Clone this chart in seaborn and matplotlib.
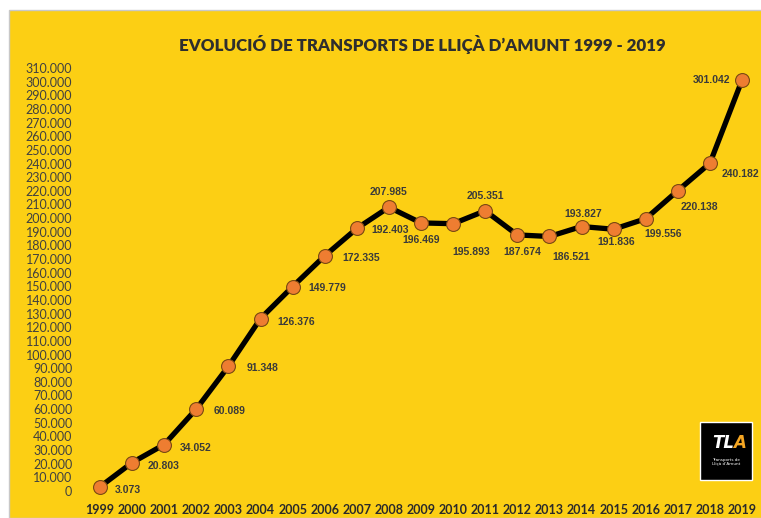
import pandas as pd
import seaborn as sns
import matplotlib.pyplot as plt
from matplotlib.patches import Rectangle
from matplotlib.ticker import FuncFormatter

years = list(range(1999, 2020))
transports = [3073, 20803, 34052, 60089, 91348, 126376, 149779, 172335, 192403, 207985,
              196469, 195893, 205351, 187674, 186521, 193827, 191836, 199556, 220138,
              240182, 301042]
# label offsets in pixels (dx, dy) and horizontal alignment
label_pos = [(15, -3, 'left'), (16, -3, 'left'), (16, -3, 'left'), (17, -2, 'left'),
             (18, -2, 'left'), (17, -3, 'left'), (16, -1, 'left'), (18, -2, 'left'),
             (33, -2, 'center'), (0, 15, 'center'), (0, -17, 'center'), (18, -28, 'center'),
             (0, 15, 'center'), (5, -17, 'center'), (22, -21, 'center'), (2, 13, 'center'),
             (3, -13, 'center'), (17, -15, 'center'), (22, -16, 'center'), (31, -11, 'center'),
             (-12, 0, 'right')]

yellow = '#FCCF14'
df = pd.DataFrame({'Any': years, 'Transports': transports})

sns.set_style('white')
fig = plt.figure(figsize=(7.61, 5.18), dpi=100, facecolor='white')
fig.patches.append(Rectangle((9 / 761, 0), 1, 1 - 10 / 518, transform=fig.transFigure,
                             facecolor=yellow, edgecolor='#c8c8c8', lw=1, zorder=-10))
ax = fig.add_axes([100 / 761, 27 / 518, 642 / 761, 423 / 518])
ax.set_facecolor('none')

sns.lineplot(x='Any', y='Transports', data=df, ax=ax, color='black', lw=3.8,
             marker='o', markersize=10, markerfacecolor='#EE7D31',
             markeredgecolor='#7a4a12', markeredgewidth=0.8, clip_on=False)

for x, y, (dx, dy, ha) in zip(years, transports, label_pos):
    ax.annotate(f'{y:,}'.replace(',', '.'), (x, y), xytext=(dx, dy),
                textcoords='offset pixels', ha=ha, va='center', fontsize=7.5,
                fontweight='bold', color='#3a3a3a', family='Liberation Sans')

ax.set_xlim(1999, 2019)
ax.set_ylim(0, 310000)
ax.set_xticks(years)
ax.set_yticks(range(0, 310001, 10000))
ax.yaxis.set_major_formatter(FuncFormatter(lambda v, p: f'{int(v):,}'.replace(',', '.')))
ax.tick_params(axis='y', length=0, pad=20, labelsize=9, labelcolor='#404040')
ax.tick_params(axis='x', length=0, pad=9, labelsize=9, labelcolor='#2a2a2a')
for t in ax.get_yticklabels():
    t.set_family('Lato')
for t in ax.get_xticklabels():
    t.set_family('Lato')
    t.set_fontweight('bold')
ax.set_xlabel('')
ax.set_ylabel('')
sns.despine(ax=ax, left=True, bottom=True)

fig.text(422 / 761, 1 - 44 / 518, 'EVOLUCIÓ DE TRANSPORTS DE LLIÇÀ D’AMUNT 1999 - 2019',
         ha='center', va='center', fontsize=12.2, fontweight='heavy', color='#2e2e2e',
         family='Lato')

# TLA logo
fig.patches.append(Rectangle((700 / 761, 1 - 480 / 518), 52 / 761, 58 / 518,
                             transform=fig.transFigure, facecolor='black', zorder=5))
fig.text(712 / 761, 1 - 443 / 518, 'TL', ha='left', va='center', fontsize=12,
         fontweight='bold', style='italic', color='white', zorder=6)
fig.text(733 / 761, 1 - 443 / 518, 'A', ha='left', va='center', fontsize=12,
         fontweight='bold', style='italic', color='#F5A623', zorder=6)
fig.text(726 / 761, 1 - 462 / 518, 'Transports de\nLliçà d’Amunt', ha='center', va='center',
         fontsize=3, color='white', zorder=6, linespacing=1.1)

fig.savefig('out.png', dpi=100)
